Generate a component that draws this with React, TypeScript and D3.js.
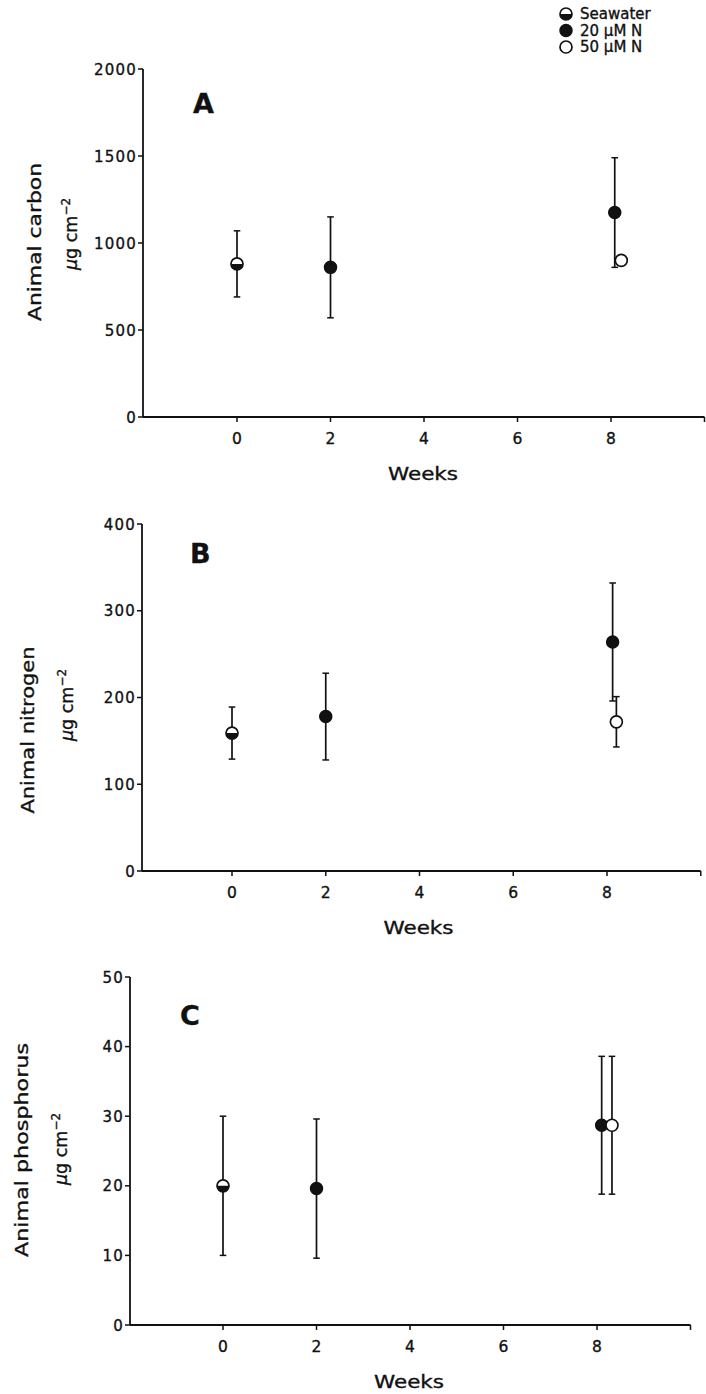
import React from 'react';
import * as d3 from 'd3';

// ---------- data ----------
const weekTicks = [0, 2, 4, 6, 8, 10];
const weekTickLabels = ['0', '2', '4', '6', '8', ''];

const carbonTicks = [0, 500, 1000, 1500, 2000];
const nitrogenTicks = [0, 100, 200, 300, 400];
const phosphorusTicks = [0, 10, 20, 30, 40, 50];

const seawaterWeeks = [0];
const n20Weeks = [2, 8];
const n50Weeks = [8];

const carbonSeawater = [880];
const carbonSeawaterErr = [190];
const carbonN20 = [860, 1175];
const carbonN20Err = [290, 315];
const carbonN50 = [900];
const carbonN50Err = [20];

const nitrogenSeawater = [159];
const nitrogenSeawaterErr = [30];
const nitrogenN20 = [178, 264];
const nitrogenN20Err = [50, 68];
const nitrogenN50 = [172];
const nitrogenN50Err = [29];

const phosphorusSeawater = [20];
const phosphorusSeawaterErr = [10];
const phosphorusN20 = [19.6, 28.7];
const phosphorusN20Err = [10, 9.9];
const phosphorusN50 = [28.7];
const phosphorusN50Err = [9.9];

const legendLabels = ['Seawater', '20 \u03BCM N', '50 \u03BCM N'];

// ---------- layout ----------
const W = 706;
const H = 1394;
const FONT = 'DejaVu Sans, sans-serif';
const INK = '#111';

type Series = { kind: 'sea' | 'n20' | 'n50'; weeks: number[]; vals: number[]; errs: number[] };

type Panel = {
  letter: string;
  label: string;
  ticks: number[];
  yMax: number;
  yTop: number;
  yBottom: number;
  x0: number;
  x8: number;
  axisX: number;
  letterX: number;
  letterY: number;
  labelX: number;
  labelY: number;
  labelLen: number;
  unitX: number;
  unitY: number;
  dodge: { n20: number; n50: number };
  series: Series[];
};

const panels: Panel[] = [
  {
    letter: 'A', label: 'Animal carbon', ticks: carbonTicks, yMax: 2000,
    yTop: 69, yBottom: 417, x0: 237, x8: 611, axisX: 143,
    letterX: 193, letterY: 113, labelX: 41, labelY: 242, labelLen: 158, unitX: 77, unitY: 234,
    dodge: { n20: 0.08, n50: 0.22 },
    series: [
      { kind: 'sea', weeks: seawaterWeeks, vals: carbonSeawater, errs: carbonSeawaterErr },
      { kind: 'n20', weeks: n20Weeks, vals: carbonN20, errs: carbonN20Err },
      { kind: 'n50', weeks: n50Weeks, vals: carbonN50, errs: carbonN50Err },
    ],
  },
  {
    letter: 'B', label: 'Animal nitrogen', ticks: nitrogenTicks, yMax: 400,
    yTop: 524, yBottom: 871, x0: 232, x8: 607, axisX: 142,
    letterX: 190, letterY: 563, labelX: 34, labelY: 730, labelLen: 167, unitX: 73, unitY: 705,
    dodge: { n20: 0.12, n50: 0.2 },
    series: [
      { kind: 'sea', weeks: seawaterWeeks, vals: nitrogenSeawater, errs: nitrogenSeawaterErr },
      { kind: 'n20', weeks: n20Weeks, vals: nitrogenN20, errs: nitrogenN20Err },
      { kind: 'n50', weeks: n50Weeks, vals: nitrogenN50, errs: nitrogenN50Err },
    ],
  },
  {
    letter: 'C', label: 'Animal phosphorus', ticks: phosphorusTicks, yMax: 50,
    yTop: 977, yBottom: 1325, x0: 223, x8: 597, axisX: 130,
    letterX: 180, letterY: 1025, labelX: 28, labelY: 1150, labelLen: 214, unitX: 67, unitY: 1149,
    dodge: { n20: 0.1, n50: 0.32 },
    series: [
      { kind: 'sea', weeks: seawaterWeeks, vals: phosphorusSeawater, errs: phosphorusSeawaterErr },
      { kind: 'n20', weeks: n20Weeks, vals: phosphorusN20, errs: phosphorusN20Err },
      { kind: 'n50', weeks: n50Weeks, vals: phosphorusN50, errs: phosphorusN50Err },
    ],
  },
];

const R = 6;
const txt = { fontFamily: FONT, fill: INK, stroke: INK, strokeWidth: 0.35 } as const;

function Marker({ kind, x, y }: { kind: string; x: number; y: number }) {
  if (kind === 'n20') {
    return <circle cx={x} cy={y} r={R} fill={INK} stroke={INK} strokeWidth={1.5} />;
  }
  if (kind === 'n50') {
    return <circle cx={x} cy={y} r={R} fill="#fff" stroke={INK} strokeWidth={1.7} />;
  }
  return (
    <g transform={`translate(${x},${y})`}>
      <circle r={R} fill="#fff" stroke={INK} strokeWidth={1.7} />
      <path d={`M${-R},0 A${R},${R} 0 0 0 ${R},0 Z`} fill={INK} />
    </g>
  );
}

function PanelView({ p }: { p: Panel }) {
  const x = d3.scaleLinear().domain([0, 8]).range([p.x0, p.x8]);
  const y = d3.scaleLinear().domain([0, p.yMax]).range([p.yBottom, p.yTop]);
  const xEnd = x(10);
  const dodgeOf = (kind: string, wk: number) =>
    wk === 8 ? (kind === 'n20' ? p.dodge.n20 : kind === 'n50' ? p.dodge.n50 : 0) : 0;
  return (
    <g>
      {/* axes */}
      <line x1={p.axisX} x2={p.axisX} y1={y(p.yMax)} y2={y(0)} stroke={INK} strokeWidth={1.8} />
      <line x1={p.axisX} x2={xEnd} y1={y(0)} y2={y(0)} stroke={INK} strokeWidth={1.8} />
      {p.ticks.map((t) => (
        <g key={'y' + t}>
          <line x1={p.axisX - 5} x2={p.axisX} y1={y(t)} y2={y(t)} stroke={INK} strokeWidth={1.5} />
          <text x={p.axisX - 6} y={y(t) + 5.5} textAnchor="end" fontSize={15} letterSpacing={1.2} {...txt}>
            {t}
          </text>
        </g>
      ))}
      {weekTicks.map((t, i) => (
        <g key={'x' + t}>
          <line x1={x(t)} x2={x(t)} y1={y(0)} y2={y(0) + 5} stroke={INK} strokeWidth={1.5} />
          <text x={x(t)} y={y(0) + 27} textAnchor="middle" fontSize={15.5} {...txt}>
            {weekTickLabels[i]}
          </text>
        </g>
      ))}
      <text x={(p.x0 + p.x8) / 2 - 1} y={y(0) + 63} textAnchor="middle" fontSize={17.5}
        textLength={70} lengthAdjust="spacingAndGlyphs" {...txt}>Weeks</text>
      {/* y labels */}
      <text transform={`translate(${p.labelX},${p.labelY}) rotate(-90)`} textAnchor="middle"
        fontSize={18.5} textLength={p.labelLen} lengthAdjust="spacingAndGlyphs" {...txt}>
        {p.label}
      </text>
      <text transform={`translate(${p.unitX},${p.unitY}) rotate(-90)`} textAnchor="middle"
        fontSize={17.5} {...txt}>
        <tspan fontStyle="italic">{'\u03BC'}</tspan>
        <tspan>g cm</tspan>
        <tspan dy={-7} fontSize={12}>{'\u22122'}</tspan>
      </text>
      {/* panel letter */}
      <text x={p.letterX} y={p.letterY} fontSize={27} fontWeight="bold" {...txt}>
        {p.letter}
      </text>
      {/* error bars */}
      {p.series.map((s) =>
        s.weeks.map((wk, i) => {
          const cx = x(wk + dodgeOf(s.kind, wk));
          const hi = y(s.vals[i] + s.errs[i]);
          const lo = y(s.vals[i] - s.errs[i]);
          return (
            <g key={s.kind + 'e' + wk}>
              <line x1={cx} x2={cx} y1={hi} y2={lo} stroke={INK} strokeWidth={1.7} />
              <line x1={cx - 3.3} x2={cx + 3.3} y1={hi} y2={hi} stroke={INK} strokeWidth={1.5} />
              <line x1={cx - 3.3} x2={cx + 3.3} y1={lo} y2={lo} stroke={INK} strokeWidth={1.5} />
            </g>
          );
        })
      )}
      {/* markers */}
      {p.series.map((s) =>
        s.weeks.map((wk, i) => (
          <Marker key={s.kind + 'm' + wk} kind={s.kind} x={x(wk + dodgeOf(s.kind, wk))} y={y(s.vals[i])} />
        ))
      )}
    </g>
  );
}

export default function App() {
  const legendKinds = ['sea', 'n20', 'n50'];
  return (
    <svg width={W} height={H} viewBox={`0 0 ${W} ${H}`}
      style={{ position: 'absolute', left: 0, top: 0, display: 'block', background: '#fff' }}>
      <rect width={W} height={H} fill="#fff" />
      {panels.map((p) => (
        <PanelView key={p.letter} p={p} />
      ))}
      {legendKinds.map((k, i) => (
        <g key={k}>
          <Marker kind={k} x={566} y={14 + i * 16.5} />
          <text x={580} y={19 + i * 16.5} fontSize={15} {...txt}>
            {legendLabels[i]}
          </text>
        </g>
      ))}
    </svg>
  );
}
